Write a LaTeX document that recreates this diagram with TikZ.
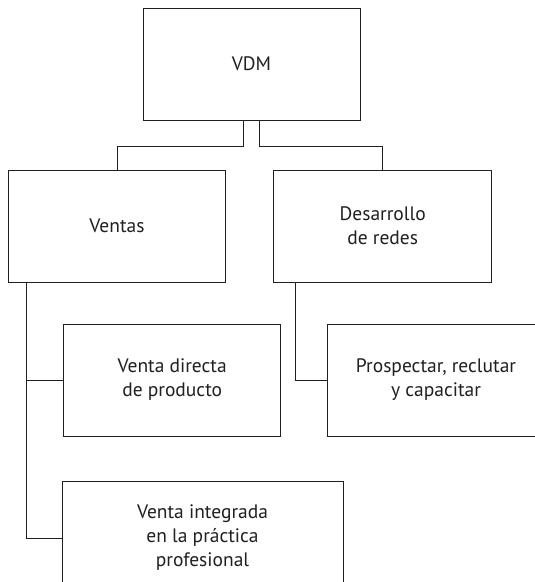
\documentclass[tikz,border=0pt]{standalone}
\usepackage{fontspec}
\setmainfont{PT Sans}
\usetikzlibrary{calc}
\definecolor{ink}{HTML}{231F20}
\begin{document}
\begin{tikzpicture}[x=1pt,y=-1pt,
  box/.style={draw=ink,line width=1pt,rectangle,inner sep=0pt,minimum height=112pt,
    align=center,text=ink,font=\fontsize{19.5}{24}\selectfont},
  wire/.style={draw=ink,line width=1pt}]
\clip (0,0) rectangle (535,582);
\fill[white] (0,0) rectangle (535,582);
\node[box,minimum width=217pt] (vdm) at (251.5,64) {VDM};
\node[box,minimum width=217.5pt] (ventas) at (117,226) {Ventas};
\node[box,minimum width=217.5pt] (desarrollo) at (382.7,226) {Desarrollo\\de redes};
\node[box,minimum width=217.5pt] (directa) at (172.2,380) {Venta directa\\de producto};
\node[box,minimum width=218pt] (prospectar) at (436,380) {Prospectar, reclutar\\y capacitar};
\node[box,minimum width=281pt,minimum height=113pt] (integrada) at (202.5,538) {Venta integrada\\en la práctica\\profesional};
\draw[wire] ([xshift=-8.5pt]vdm.south) -- ++(0,26) -| (ventas.north);
\draw[wire] ([xshift=8pt]vdm.south) -- ++(0,26) -| (desarrollo.north);
\draw[wire] ([xshift=18.6pt]ventas.south west) |- (directa.west);
\draw[wire] ([xshift=18.6pt]ventas.south west) |- (integrada.west);
\draw[wire] ([xshift=21.6pt]desarrollo.south west) |- (prospectar.west);
\end{tikzpicture}
\end{document}
